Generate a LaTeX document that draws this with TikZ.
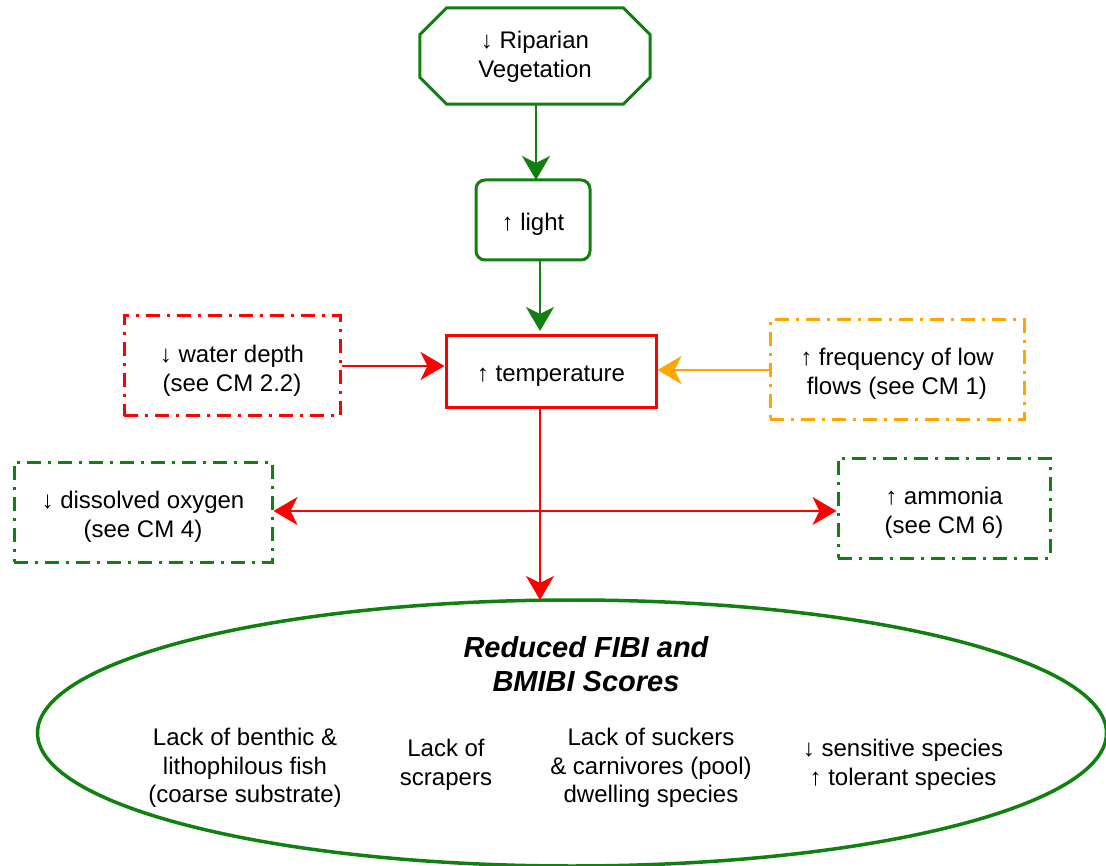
\documentclass[tikz,border=0pt]{standalone}
\usepackage{fontspec}
\setmainfont{Liberation Sans}
\usetikzlibrary{shapes.geometric,arrows.meta}
\definecolor{cgreen}{RGB}{16,128,16}
\definecolor{cred}{RGB}{255,0,0}
\definecolor{corange}{RGB}{255,165,0}
\tikzset{
  txt/.style={font=\fontsize{24}{28.5}\selectfont, align=center, inner sep=0pt},
  solidbox/.style={draw, line width=3pt, inner sep=0pt},
  dashbox/.style={draw, line width=3pt, inner sep=0pt,
    dash pattern=on 14pt off 7pt on 3pt off 7pt},
  flow/.style={line width=2pt, -{Stealth[length=24pt,width=28pt,inset=7pt]}},
  flowboth/.style={line width=2pt, {Stealth[length=24pt,width=28pt,inset=7pt]}-{Stealth[length=24pt,width=28pt,inset=7pt]}},
}
\begin{document}
\begin{tikzpicture}[x=1pt,y=-1pt]
\useasboundingbox (0,0) rectangle (1106,866);

% causal chain boxes
\node[inner sep=0pt, minimum width=230pt, minimum height=96pt] (rip) at (535,56) {};
\draw[cgreen, line width=3pt, line join=miter]
  ([xshift=27pt]rip.north west) -- ([xshift=-27pt]rip.north east)
  -- ([yshift=-27pt]rip.north east) -- ([yshift=27pt]rip.south east)
  -- ([xshift=-27pt]rip.south east) -- ([xshift=27pt]rip.south west)
  -- ([yshift=27pt]rip.south west) -- ([yshift=-27pt]rip.north west) -- cycle;
\node[txt] at (535,57) {↓ Riparian\\Vegetation};

\node[solidbox, draw=cgreen, rounded corners=9pt, minimum width=114pt, minimum height=80pt]
  (light) at (533,220) {};
\node[txt] at (533,224) {↑ light};

\node[solidbox, draw=cred, minimum width=210pt, minimum height=72pt]
  (temp) at (551,372) {};
\node[txt] at (551,376) {↑ temperature};

\node[dashbox, draw=cred, minimum width=216pt, minimum height=100pt]
  (depth) at (232,366) {};
\node[txt] at (232,371) {↓ water depth\\(see CM 2.2)};

\node[dashbox, draw=corange, minimum width=254pt, minimum height=100pt]
  (freq) at (897,370) {};
\node[txt] at (897,374) {↑ frequency of low\\flows (see CM 1)};

\node[dashbox, draw=cgreen, minimum width=258pt, minimum height=100pt]
  (oxy) at (143,512) {};
\node[txt] at (143,517) {↓ dissolved oxygen\\(see CM 4)};

\node[dashbox, draw=cgreen, minimum width=212pt, minimum height=100pt]
  (amm) at (944,508) {};
\node[txt] at (944,513) {↑ ammonia\\(see CM 6)};

% outcome ellipse
\node[draw=cgreen, line width=3.5pt, ellipse, minimum width=1069pt, minimum height=266pt, inner sep=0pt]
  (scores) at (572,733) {};
\node[txt, font=\fontsize{29}{34}\selectfont\bfseries\itshape] (title) at (586,664) {Reduced FIBI and\\BMIBI Scores};
\node[txt] (c1) at (245,768) {Lack of benthic \&\\lithophilous fish\\(coarse substrate)};
\node[txt] (c2) at (446,765) {Lack of\\scrapers};
\node[txt] (c3) at (651,768) {Lack of suckers\\\& carnivores (pool)\\dwelling species};
\node[txt] (c4) at (903,765) {↓ sensitive species\\↑ tolerant species};

% connectors
\coordinate (ripB) at (536,104);
\coordinate (lightT) at (536,180);
\draw[flow, cgreen] (ripB) -- (lightT);
\coordinate (lightB) at (540,260);
\coordinate (tempT) at (540,331);
\draw[flow, cgreen] (lightB) -- (tempT);
\draw[flow, cred] (depth.east |- 0,366) -- (temp.west |- 0,366);
\draw[flow, corange] (freq.west |- 0,370) -- (temp.east |- 0,370);
\coordinate (tempB) at (540,408);
\coordinate (scoresT) at (540,600);
\draw[flow, cred] (tempB) -- (scoresT);
\draw[flowboth, cred] (oxy.east |- 0,511) -- (amm.west |- 0,511);
\end{tikzpicture}
\end{document}
